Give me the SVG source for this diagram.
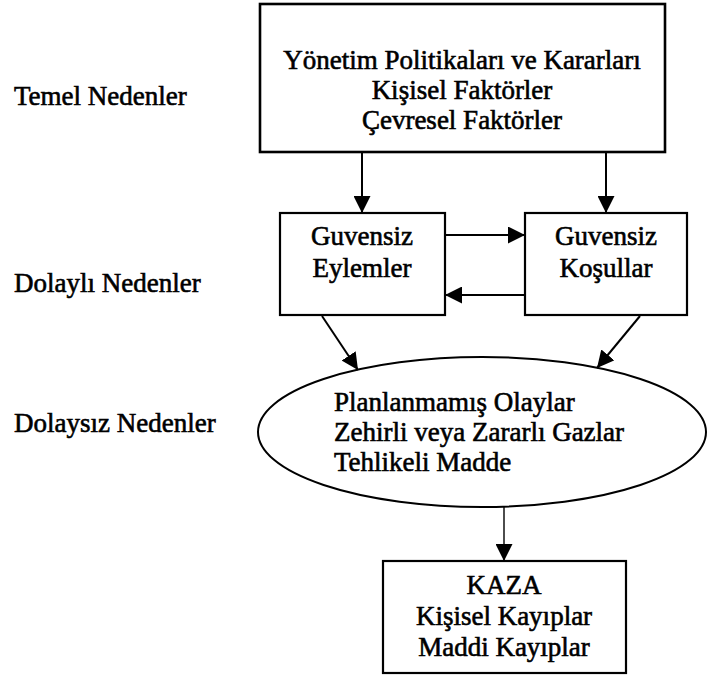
<svg xmlns="http://www.w3.org/2000/svg" width="709" height="676" viewBox="0 0 709 676">
<style>
  text { font-family: "Liberation Serif", "Times New Roman", serif; font-size: 27px; fill: #000; stroke: #000; stroke-width: 0.6; }
  .c { text-anchor: middle; }
  .box { fill: #fff; stroke: #000; stroke-width: 2.2; }
  .conn { stroke: #000; stroke-width: 2; fill: none; marker-end: url(#ah); }
  .thin { stroke-width: 1.4; }
</style>
<defs>
  <marker id="ah" markerUnits="userSpaceOnUse" markerWidth="17" markerHeight="17" refX="17" refY="8.5" orient="auto">
    <path d="M0,0 L17,8.5 L0,17 Z" fill="#000"/>
  </marker>
</defs>
<rect width="709" height="676" fill="#fff"/>

<g id="labels">
  <text x="14" y="105">Temel Nedenler</text>
  <text x="14" y="292">Dolaylı Nedenler</text>
  <text x="14" y="432">Dolaysız Nedenler</text>
</g>

<g id="temel">
  <rect class="box" x="260" y="4" width="405" height="148" style="stroke-width:2.6"/>
  <text class="c" x="462" y="69">Yönetim Politikaları ve Kararları</text>
  <text class="c" x="462" y="99">Kişisel Faktörler</text>
  <text class="c" x="462" y="129">Çevresel Faktörler</text>
</g>

<g id="eylemler">
  <rect class="box" x="280" y="213" width="165" height="102"/>
  <text class="c" x="362" y="245">Guvensiz</text>
  <text class="c" x="362" y="277">Eylemler</text>
</g>

<g id="kosullar">
  <rect class="box" x="525" y="213" width="162" height="102"/>
  <text class="c" x="606" y="245">Guvensiz</text>
  <text class="c" x="606" y="277">Koşullar</text>
</g>

<g id="olaylar">
  <ellipse cx="482" cy="432" rx="224" ry="75" fill="#fff" stroke="#000" stroke-width="2"/>
  <text x="334" y="411">Planlanmamış Olaylar</text>
  <text x="334" y="441">Zehirli veya Zararlı Gazlar</text>
  <text x="334" y="471">Tehlikeli Madde</text>
</g>

<g id="kaza">
  <rect class="box" x="383" y="561" width="243" height="112"/>
  <text class="c" x="504" y="594">KAZA</text>
  <text class="c" x="504" y="625">Kişisel Kayıplar</text>
  <text class="c" x="504" y="656">Maddi Kayıplar</text>
</g>

<g id="connectors">
  <line class="conn" x1="362" y1="153" x2="362" y2="213"/>
  <line class="conn" x1="606" y1="153" x2="606" y2="213"/>
  <line class="conn" x1="446" y1="235" x2="525" y2="235"/>
  <line class="conn" x1="524" y1="295" x2="445" y2="295"/>
  <line class="conn" x1="322" y1="316" x2="358" y2="370"/>
  <line class="conn" x1="640" y1="316" x2="597" y2="368"/>
  <line class="conn thin" x1="504" y1="507" x2="504" y2="561"/>
</g>
</svg>
